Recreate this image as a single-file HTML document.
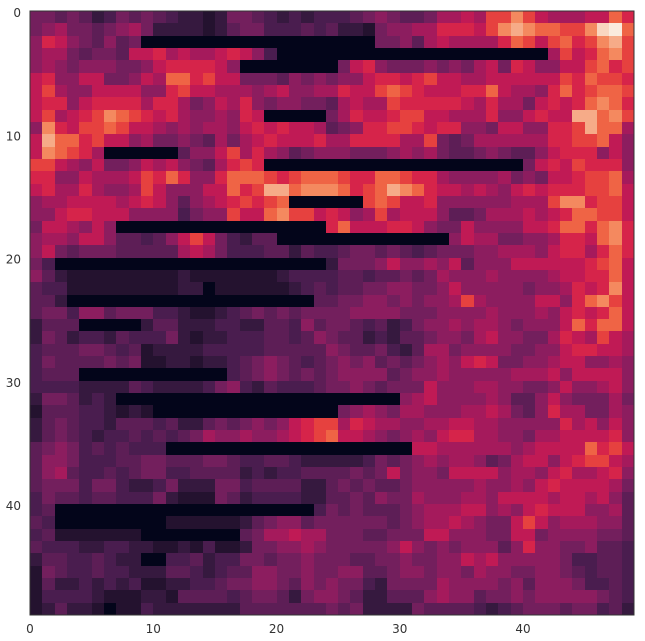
<!DOCTYPE html>
<html><head><meta charset="utf-8"><style>
html,body{margin:0;padding:0;background:#fff;}
svg{display:block;font-family:"DejaVu Sans","Liberation Sans",sans-serif;}
</style></head>
<body>
<svg id="chart" width="645" height="641" viewBox="0 0 645 641" xmlns="http://www.w3.org/2000/svg">
<g id="cells" shape-rendering="crispEdges"></g>
<rect x="30" y="11" width="604" height="604" fill="none" stroke="#333" stroke-width="1"/>
<g id="xticks"></g>
<g id="yticks"></g>
</svg>
<script>
const xTickValues = [0, 10, 20, 30, 40];
const yTickValues = [0, 10, 20, 30, 40];
const xTickLabels = ["0", "10", "20", "30", "40"];
const yTickLabels = ["0", "10", "20", "30", "40"];
const levelColors = ["#03051a","#24122f","#36193f","#4a1d4f","#5d1e56","#731f5d","#8c1d5f","#a51a5c","#c01a55","#d6244a","#e6413f","#ef6445","#f4895f","#f6ab88","#f9d6c0","#faebdd"];
const rowValues = [
"5545423545432212554323233345654457787aaca877788b9",
"567554567522221245533343422156677999 8acdcbbaacefb".replace(" ",""),
"698654645"+"0000000000"+"000000000"+"5"+"5647877779ba8ab9acda",
"67754554889787789863"+"0000000000"+"0000000000"+"00"+"7a89bca",
"67656665568999986"+"00000000"+"58965556565785986688ab9a",
"8966885568"+"7bb9a88555"+"4656"+"56689989a887788888 8a9baa9".replace(" ",""),
"8a76688886"+"69a8877767"+"8667"+"7988aba988899b87769b9abba",
"8996899997"+"9975687965"+"6655"+"47877a99999879775898 9bcb9".replace(" ",""),
"8a789acba9"+"8976676980"+"0000"+"579889aa887779668988ddbca",
"6c98aaba88"+"7676776898"+"9887"+"45699aa9899665886699adbb7",
"8dbb9a8867"+"5565475789"+"8889"+"77999977a54577777799aab86",
"8cba970000"+"004668a797"+"6456"+"665556767544565446899 9686".replace(" ",""),
"aa876855687865479a9"+"0000000000"+"0000000000"+"0"+"5898a9996",
"996687778a"+"9b9669bbba"+"9abb"+"ba99bba9976666756588 9aab7".replace(" ",""),
"897797667a"+"866688b9ad"+"dbcc"+"cb9abdcb98878768989 99aab8".replace(" ",""),
"6778888789"+"8646789a9a"+"b000"+"000aba889666666777acc9aa8",
"6689988866"+"663566a88b"+"caa8"+"9867a788864457778789bbaa8",
"5887686"+"0000000000"+"0000000"+"9b88899865586666889bb9bc9",
"67768864434"+"68a853244"+"0000000000"+"0000"+"687755667998bc9",
"6854555444"+"4478753334"+"4243"+"34554543455566777689979b9",
"53"+"0000000000"+"0000000000"+"00"+"2555686676846668888889ab8",
"6421111111"+"1121111111"+"2333"+"3443445457666766667889 9b8".replace(" ",""),
"4331111111"+"1122011111"+"1234"+"344556655686666656679 89c8".replace(" ",""),
"442"+"0000000000"+"0000000000"+"4"+"45566565667a766668869bca8",
"4553664555"+"3321123454"+"5455"+"556666555666676667689 89b8".replace(" ",""),
"2444000002"+"4422233224"+"4364"+"554342356676776566 68b9bb8".replace(" ",""),
"2542332433"+"3521223334"+"4346"+"544232445665786655798 7a87".replace(" ",""),
"3444554341"+"2222333334"+"4444"+"654453247756666556689 9887".replace(" ",""),
"3544445451"+"1221223456"+"5434"+"565645456768985566788 6676".replace(" ",""),
"3444000000"+"0000003456"+"5454"+"566664566766666777868 8886".replace(" ",""),
"3333222243"+"2222356324"+"3334"+"556545558666776655686 6786".replace(" ",""),
"2554232"+"0000000000"+"0000000000"+"000"+"6786666764468655575",
"1444332121"+"0000000000"+"00000"+"567657766677875469775576",
"2454332444"+"3422454565"+"689a"+"a79877667788776666697 8686".replace(" ",""),
"2454323343"+"4345766766"+"789a"+"b887656768997766577888 896".replace(" ",""),
"45653434333"+"0000000000"+"0000000000"+"887777776788"+"88b9a8",
"4665333445"+"5444554334"+"4322"+"222354567677645788689 aa87".replace(" ",""),
"4674334345"+"5334444232"+"3344"+"445458566588886776897 7896".replace(" ",""),
"4555355322"+"3522255344"+"4422"+"454544566666766768988 8875".replace(" ",""),
"3544344333"+"5211154233"+"3322"+"445465576667768888788 7864".replace(" ",""),
"34"+"0000000000"+"0000000000"+"0"+"3"+"5454445677788676898886674",
"4300000000"+"0111111245"+"6645"+"5555545677876558a86777664",
"3411111110"+"0000000457"+"7877"+"555445558866655885666 6554".replace(" ",""),
"4333223322"+"1121311255"+"6676"+"555556865656664696655 6443".replace(" ",""),
"2443343220"+"0334233554"+"5565"+"554455655668786666653 3443".replace(" ",""),
"1543343322"+"2443234466"+"5565"+"566445665665766556654 3443".replace(" ",""),
"1422323231"+"1223345566"+"5465"+"655325555766665646665 3343".replace(" ",""),
"1333321112"+"2144443455"+"4256"+"654224446766455656666 6543".replace(" ",""),
"1242210113"+"2222222444"+"4444"+"545222254444323455545 5342".replace(" ","")
];

const N = 49, X0 = 30, Y0 = 11, SIZE = 604;
const cw = SIZE / N;
function xScale(v){ return X0 + v * cw; }
function yScale(v){ return Y0 + v * cw; }
function colorOf(ch){ const k = parseInt(ch, 16); return levelColors[isNaN(k) ? 5 : k]; }

const NS = "http://www.w3.org/2000/svg";
const cells = document.getElementById("cells");
for (let r = 0; r < N; r++) {
  let row = (rowValues[r] || "").replace(/\s/g, "");
  row = row.padEnd(N, row.slice(-1) || "5").slice(0, N);
  const y0 = Math.round(yScale(r)), y1 = Math.round(yScale(r + 1));
  for (let c = 0; c < N; c++) {
    const x0 = Math.round(xScale(c)), x1 = Math.round(xScale(c + 1));
    const rect = document.createElementNS(NS, "rect");
    
    
    rect.setAttribute("x", x0);
    rect.setAttribute("y", y0);
    rect.setAttribute("width", x1 - x0);
    rect.setAttribute("height", y1 - y0);
    rect.setAttribute("fill", colorOf(row[c]));
    cells.appendChild(rect);
  }
}
const xg = document.getElementById("xticks");
xTickValues.forEach((v, i) => {
  const t = document.createElementNS(NS, "text");
  
  
  t.setAttribute("x", xScale(v));
  t.setAttribute("y", 633);
  t.setAttribute("text-anchor", "middle");
  t.setAttribute("font-size", "12");
  t.setAttribute("fill", "#333");
  t.textContent = xTickLabels[i];
  xg.appendChild(t);
});
const yg = document.getElementById("yticks");
yTickValues.forEach((v, i) => {
  const t = document.createElementNS(NS, "text");
  
  
  t.setAttribute("x", 21);
  t.setAttribute("y", yScale(v) + 6);
  t.setAttribute("text-anchor", "end");
  t.setAttribute("font-size", "12");
  t.setAttribute("fill", "#333");
  t.textContent = yTickLabels[i];
  yg.appendChild(t);
});
</script>
</body></html>
